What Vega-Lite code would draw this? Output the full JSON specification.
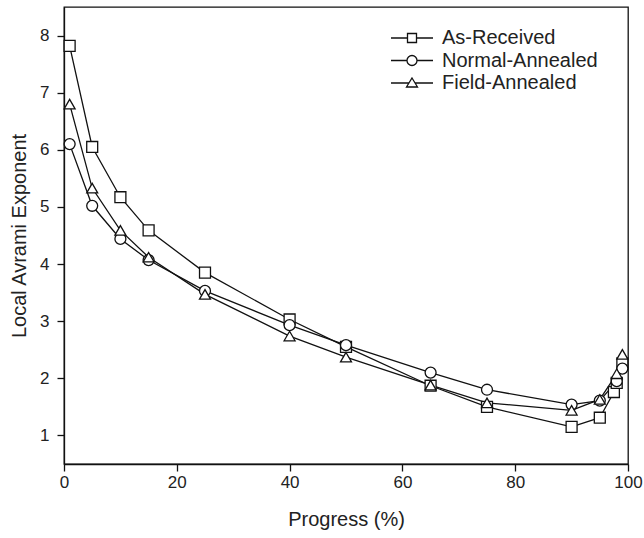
{
  "$schema": "https://vega.github.io/schema/vega-lite/v6.json",
  "autosize": "none",
  "width": 564,
  "height": 457,
  "padding": {"left": 64, "top": 7, "right": 16, "bottom": 74},
  "background": "white",
  "config": {
    "font": "Liberation Sans",
    "view": {"stroke": "#111", "strokeWidth": 1.3},
    "axis": {
      "grid": false,
      "domainColor": "#111",
      "domainWidth": 1.3,
      "tickColor": "#111",
      "tickWidth": 1.3,
      "tickSize": 7,
      "labelFont": "Liberation Sans",
      "labelFontSize": 17,
      "labelColor": "#222",
      "titleFont": "Liberation Sans",
      "titleFontSize": 20,
      "titleFontWeight": "normal",
      "titleColor": "#222"
    }
  },
  "data": {
    "values": [
      {"series": "As-Received", "x": 1, "y": 7.82},
      {"series": "As-Received", "x": 5, "y": 6.05},
      {"series": "As-Received", "x": 10, "y": 5.17},
      {"series": "As-Received", "x": 15, "y": 4.59},
      {"series": "As-Received", "x": 25, "y": 3.85},
      {"series": "As-Received", "x": 40, "y": 3.03},
      {"series": "As-Received", "x": 50, "y": 2.55},
      {"series": "As-Received", "x": 65, "y": 1.87},
      {"series": "As-Received", "x": 75, "y": 1.5},
      {"series": "As-Received", "x": 90, "y": 1.15},
      {"series": "As-Received", "x": 95, "y": 1.31},
      {"series": "As-Received", "x": 97.5, "y": 1.76},
      {"series": "As-Received", "x": 98, "y": 1.92},
      {"series": "As-Received", "x": 99, "y": 2.26},
      {"series": "Normal-Annealed", "x": 1, "y": 6.1},
      {"series": "Normal-Annealed", "x": 5, "y": 5.02},
      {"series": "Normal-Annealed", "x": 10, "y": 4.44},
      {"series": "Normal-Annealed", "x": 15, "y": 4.07},
      {"series": "Normal-Annealed", "x": 25, "y": 3.53},
      {"series": "Normal-Annealed", "x": 40, "y": 2.93},
      {"series": "Normal-Annealed", "x": 50, "y": 2.58},
      {"series": "Normal-Annealed", "x": 65, "y": 2.1},
      {"series": "Normal-Annealed", "x": 75, "y": 1.8},
      {"series": "Normal-Annealed", "x": 90, "y": 1.54},
      {"series": "Normal-Annealed", "x": 95, "y": 1.61},
      {"series": "Normal-Annealed", "x": 98, "y": 1.95},
      {"series": "Normal-Annealed", "x": 99, "y": 2.17},
      {"series": "Field-Annealed", "x": 1, "y": 6.8},
      {"series": "Field-Annealed", "x": 5, "y": 5.33},
      {"series": "Field-Annealed", "x": 10, "y": 4.59},
      {"series": "Field-Annealed", "x": 15, "y": 4.12},
      {"series": "Field-Annealed", "x": 25, "y": 3.47},
      {"series": "Field-Annealed", "x": 40, "y": 2.74},
      {"series": "Field-Annealed", "x": 50, "y": 2.37},
      {"series": "Field-Annealed", "x": 65, "y": 1.88},
      {"series": "Field-Annealed", "x": 75, "y": 1.57},
      {"series": "Field-Annealed", "x": 90, "y": 1.44},
      {"series": "Field-Annealed", "x": 95, "y": 1.63},
      {"series": "Field-Annealed", "x": 98, "y": 2.08},
      {"series": "Field-Annealed", "x": 99, "y": 2.42}
    ]
  },
  "encoding": {
    "x": {
      "field": "x", "type": "quantitative",
      "scale": {"domain": [0, 100], "nice": false},
      "axis": {"values": [0, 20, 40, 60, 80, 100], "title": "Progress (%)", "labelPadding": 3, "titlePadding": 19, "labelFlush": false}
    },
    "y": {
      "field": "y", "type": "quantitative",
      "scale": {"domain": [0.5, 8.5], "nice": false, "zero": false},
      "axis": {"values": [1, 2, 3, 4, 5, 6, 7, 8], "title": "Local Avrami Exponent", "labelPadding": 8, "titlePadding": 10}
    }
  },
  "layer": [
    {
      "mark": {"type": "line", "stroke": "#111", "strokeWidth": 1.3},
      "encoding": {"detail": {"field": "series"}}
    },
    {
      "mark": {"type": "point", "filled": true, "fill": "white", "stroke": "#111", "strokeWidth": 1.3, "size": 120, "opacity": 1},
      "encoding": {
        "shape": {
          "field": "series",
          "scale": {"domain": ["As-Received", "Normal-Annealed", "Field-Annealed"], "range": ["square", "circle", "triangle-up"]},
          "legend": null
        }
      }
    },
    {
      "transform": [{"filter": "datum.x > 200"}],
      "mark": {"type": "point", "filled": false, "stroke": "#111", "strokeWidth": 1.3, "size": 400, "opacity": 1},
      "encoding": {
        "shape": {
          "field": "series",
          "scale": {
            "domain": ["As-Received", "Normal-Annealed", "Field-Annealed"],
            "range": [
              "M-2.1,0H-0.45M0.45,0H2.1M-0.45,-0.45H0.45V0.45H-0.45Z",
              "M-2.1,0H-0.5M0.5,0H2.1M-0.5,0A0.5,0.5 0 1,1 0.5,0A0.5,0.5 0 1,1 -0.5,0Z",
              "M-2.1,0H-0.3M0.3,0H2.1M0,-0.5L0.55,0.4H-0.55Z"
            ]
          },
          "legend": {
            "title": null,
            "orient": "none",
            "legendX": 337,
            "legendY": 20,
            "padding": 0,
            "symbolSize": 400,
            "symbolType": "square",
            "symbolStrokeColor": "#111",
            "symbolFillColor": "white",
            "symbolStrokeWidth": 1.3,
            "symbolOpacity": 1,
            "labelOffset": 19,
            "labelFontSize": 20,
            "labelFont": "Liberation Sans",
            "labelColor": "#222",
            "rowPadding": 1.5,
            "labelLimit": 300
          }
        }
      }
    }
  ],
  "resolve": {"scale": {"shape": "independent"}}
}
